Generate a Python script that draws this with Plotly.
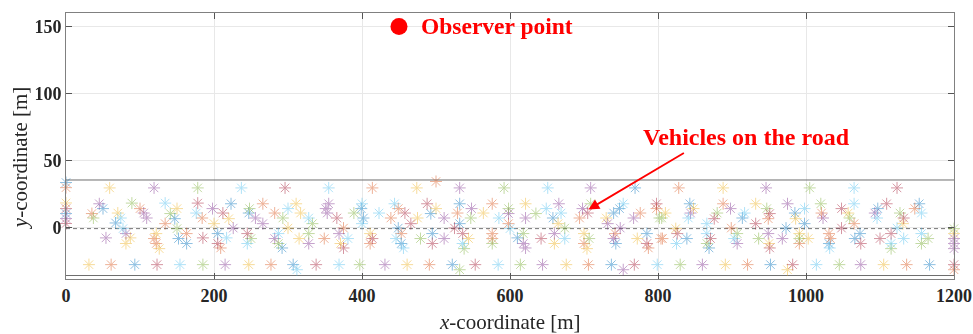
import plotly.graph_objects as go

# ---- data ----
blue_x = [0, 0, 50, 67, 147, 152, 163, 93, 223, 205, 247, 292, 307, 399, 402, 493, 532, 532, 449, 453, 495, 522,
          769, 658, 740, 748, 610, 743, 785, 737, 843, 914, 985, 998, 839, 869, 973, 952, 1097, 1031, 1073, 1066, 1153, 1167]
blue_y = [33.8, 10.7, 14.4, 3.7, 6.9, -7.9, -11.6, -27.3, 18, -4.2, 11.1, -14.9, -27.3, 14.4, 7.4, 10.7, 18, 3.2, -0.1, -11.6, -4.2, -27.3,
          29.8, 7.4, 11.1, 14.4, -7.4, -11.6, -4.2, -27.3, 18, 7.4, 11.1, 3.2, -7.9, -14.9, -0.1, -27.3, 14.4, -11.6, -4.2, -7.9, 18, -27.3]

orange_x = [0, 35, 134, 100, 184, 119, 122, 163, 61, 266, 209, 282, 349, 375, 277, 414, 500, 439, 449, 529, 576, 598, 411, 453, 576, 576, 491,
            694, 776, 798, 700, 742, 787, 804, 706, 828, 806, 888, 949, 899, 991, 921, 1021, 1065, 1031, 1033, 1147, 1136, 1200]
orange_y = [30, 10.7, 3.2, 14.4, 7.4, -7.9, -11.6, -4.2, -27.3, 18, -14.9, 11.1, -7.9, -0.1, -27.3, 29.8, 34.6, 7.4, 14.4, 11.1, 18, 3.2, -11.6, -4.2, -4.2, -7.9, -27.3,
            7.4, 11.1, 14.4, -11.6, -4.2, -14.9, -7.9, -27.3, 29.8, -7.9, 18, 6.9, -0.1, -11.6, -27.3, 11.1, 3.2, -4.2, -7.9, 14.4, -27.3, -31.1]

yellow_x = [0, 59, 70, 87, 81, 122, 126, 150, 31, 220, 200, 311, 317, 300, 315, 371, 247, 474, 500, 475, 564, 411, 544, 461,
            621, 665, 730, 660, 700, 704, 772, 676, 888, 810, 848, 932, 986, 824, 950, 991, 891, 975, 1057, 1131, 1003, 1105, 1200]
yellow_y = [18.6, 29.8, 11.1, -7.4, -11.6, -4.2, -15.4, 14.4, -27.3, 6.9, 3.2, 18, 11.1, -0.1, -7.9, -11.6, -27.3, 29.8, 14.4, 7.4, 11.1, -4.2, -7.9, -27.3,
            18, 3.2, 7.4, -11.6, -4.2, -15.4, -7.9, -27.3, 29.8, 11.1, 14.4, 18, 6.9, -0.5, -11.6, -4.2, -27.3, -31.1, 11.1, 3.2, -7.9, -27.3, -4.2]

purple_x = [0, 119, 45, 105, 109, 198, 54, 81, 226, 256, 266, 282, 328, 351, 355, 353, 369, 215, 532, 511, 548, 598, 511, 431,
            709, 621, 666, 698, 732, 749, 767, 618, 621, 660, 740, 644, 753, 946, 844, 898, 975, 907, 949, 968, 860,
            1023, 1093, 1074, 1200, 1200, 1200]
purple_y = [7, 29.8, 18, 11.1, 7.4, 14.4, -7.4, -4.2, -0.1, 7.4, 3.2, -7.9, -11.6, 14.4, 18, 11.1, -4.2, -27.3, 29.8, 7.4, 14.4, 10.7, -7.9, -27.3,
            29.8, 7.4, 18, 14.4, 3.2, -0.1, 7.4, -11.6, -14.9, -4.2, -7.9, -27.3, -31.1, 29.8, 11.1, 14.4, 18, -11.6, -4.2, -7.9, -27.3,
            7.4, 11.1, -27.3, -7.9, -11.6, -15.4]

green_x = [178, 37, 89, 141, 150, 185, 248, 293, 333, 250, 287, 328, 389, 397, 592, 547, 598, 479, 538, 576, 532,
           635, 674, 709, 802, 618, 707, 614, 1005, 805, 880, 947, 866, 907, 936, 991, 830,
           1020, 1059, 1127, 1115, 1165, 1156, 1045, 1200]
green_y = [29.8, 7.4, 18.5, 10.7, -0.5, -27.3, 14.4, 7.4, 3.2, -7.9, -11.6, -4.2, 11.1, -27.3, 29.8, 7.4, 14.4, -7.9, -15.4, -11.6, -31.1,
           10.7, -0.1, 18, 7.4, -4.2, -7.9, -27.3, 29.8, 7.4, 11.1, 14.4, -11.6, -4.2, -7.9, -7.9, -27.3,
           18, 7.4, 11.1, -15.4, -7.9, -11.6, -27.3, -0.5]

cyan_x = [74, 77, 134, 176, 154, 237, 355, 217, 245, 300, 287, 328, 381, 400, 400, 312, 369, 423, 444, 585, 446, 456, 536, 584,
          651, 649, 669, 753, 600, 674, 799, 841, 866, 917, 998, 825, 866, 903,
          1065, 1065, 1096, 1156, 1123, 1032, 1115, 1132, 1156, 1014]
cyan_y = [7.4, -0.5, 18.5, 11.1, -27.3, 29.8, 29.8, -7.4, -11.6, 14.4, -4.2, 7.4, -7.9, 18, 3.2, -31.1, -27.3, 11.1, 18, 7.4, -7.9, -14.9, -11.6, -27.3,
          29.8, 14.4, 11.1, 18, -0.5, -7.9, -27.3, 7.4, 3.2, 11.1, 14.4, -11.6, -4.2, -7.9,
          29.8, 18, 7.4, 11.1, -0.1, -14.9, -11.6, -7.9, -4.2, -27.3]

red_x = [0, 0, 178, 185, 123, 296, 212, 245, 205, 366, 375, 338, 458, 466, 488, 414, 495, 525, 536, 553,
         705, 642, 785, 798, 768, 876, 932, 951, 826, 871, 951, 982,
         1123, 1048, 1109, 1132, 1048, 1074, 1100, 1115, 1200]
red_y = [14.4, 3.3, 18.5, -7.4, -27.3, 29.8, 11.1, -4.2, -11.6, 7.4, -14.9, -27.3, 11.1, 3.2, 18, -7.9, -11.6, -0.1, -4.2, -27.3,
         11.1, -7.9, -11.6, 18, -27.3, 6.9, 3.2, 10.7, -4.2, -7.9, -14.9, -27.3,
         29.8, 14.4, 18, 7.4, -0.1, -11.6, -7.9, -4.2, -27.3]

road_x = [0, 1200]
road_top = [35.7, 35.7]
road_bottom = [-35.4, -35.4]
center_line = [-0.5, -0.5]

observer_x = [450]
observer_y = [150]

x_ticks = [0, 200, 400, 600, 800, 1000, 1200]
y_ticks = [0, 50, 100, 150]

series = [
    (blue_x, blue_y, "#0072BD"),
    (orange_x, orange_y, "#D95319"),
    (yellow_x, yellow_y, "#EDB120"),
    (purple_x, purple_y, "#7E2F8E"),
    (green_x, green_y, "#77AC30"),
    (cyan_x, cyan_y, "#4DBEEE"),
    (red_x, red_y, "#A2142F"),
]

FONT = "Times New Roman, Liberation Serif, serif"
fig = go.Figure()

fig.add_trace(go.Scatter(x=road_x, y=road_top, mode="lines", line=dict(color="#6e6e6e", width=1), showlegend=False))
fig.add_trace(go.Scatter(x=road_x, y=road_bottom, mode="lines", line=dict(color="#6e6e6e", width=1), showlegend=False))
fig.add_trace(go.Scatter(x=road_x, y=center_line, mode="lines", line=dict(color="#777777", width=1, dash="4px,3px"), showlegend=False))

for sx, sy, col in series:
    fig.add_trace(go.Scatter(
        x=sx, y=sy, mode="markers", showlegend=False, opacity=0.45,
        marker=dict(symbol="asterisk-open", size=10, color=col, line=dict(color=col, width=1)),
        cliponaxis=False,
    ))

fig.add_trace(go.Scatter(x=observer_x, y=observer_y, mode="markers", showlegend=False,
                         marker=dict(symbol="circle", size=17, color="#ff0000")))

axis_common = dict(
    showline=True, linecolor="#808080", linewidth=1, mirror="allticks",
    ticks="inside", ticklen=6, tickcolor="#555555", automargin=False,
    showgrid=True, gridcolor="#e8e8e8", gridwidth=1, zeroline=False,
    tickfont=dict(family=FONT, size=18, color="#262626"),
)

fig.update_xaxes(range=[0, 1200], tickvals=x_ticks, ticktext=[f"<b>{v}</b>" for v in x_ticks],
                 ticklabeloverflow="allow", **axis_common)
fig.update_yaxes(range=[-38, 160], tickvals=y_ticks, ticktext=[f"<b>{v}</b>" for v in y_ticks], **axis_common)

fig.add_annotation(x=0.5, y=-0.16, xref="paper", yref="paper", xanchor="center", yanchor="middle",
                   text="<i>x</i>-coordinate [m]", showarrow=False,
                   font=dict(family=FONT, size=21, color="#262626"))
fig.add_annotation(x=-0.051, y=0.457, xref="paper", yref="paper", xanchor="center", yanchor="middle",
                   text="<i>y</i>-coordinate [m]", showarrow=False, textangle=-90,
                   font=dict(family=FONT, size=21, color="#262626"))

fig.add_annotation(x=477, y=150, xref="x", yref="y", xanchor="left", yanchor="middle",
                   text="<b>Observer point</b>", showarrow=False,
                   font=dict(family=FONT, size=23.5, color="#ff0000"))
fig.add_annotation(x=920, y=68, xref="x", yref="y", xanchor="center", yanchor="middle",
                   text="<b>Vehicles on the road</b>", showarrow=False,
                   font=dict(family=FONT, size=24, color="#ff0000"))
fig.add_annotation(x=706, y=13.7, ax=837, ay=56.5, xref="x", yref="y", axref="x", ayref="y",
                   text="", showarrow=True, arrowhead=2, arrowsize=1.2, arrowwidth=1.8, arrowcolor="#ff0000")

fig.update_layout(
    width=973, height=334,
    margin=dict(l=66, r=19, t=13, b=55),
    paper_bgcolor="white", plot_bgcolor="white",
)

fig.write_html("out.html")
